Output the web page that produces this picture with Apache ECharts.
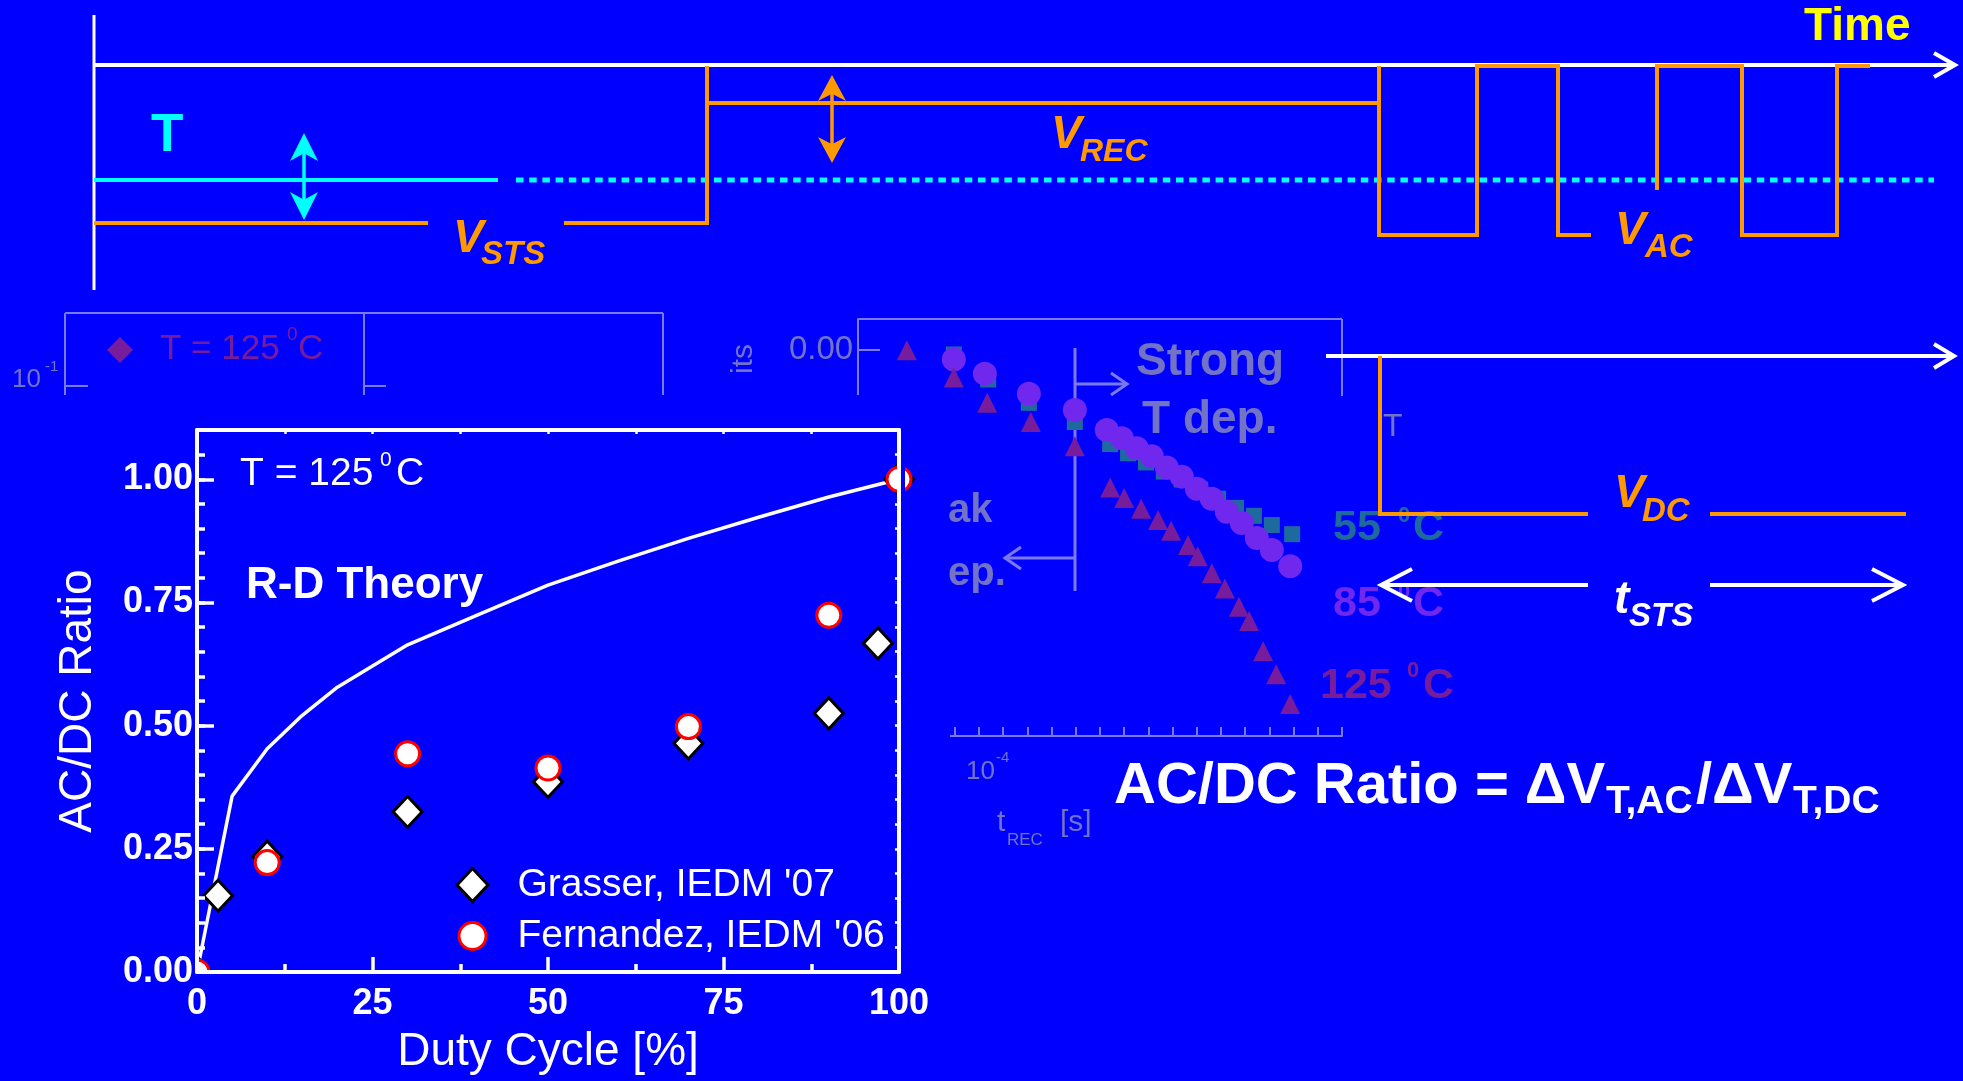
<!DOCTYPE html>
<html>
<head>
<meta charset="utf-8">
<script src="https://cdn.jsdelivr.net/npm/echarts@6/dist/echarts.min.js"></script>
<style>
  html, body { margin: 0; padding: 0; background: #0000ff; }
  #chart { width: 1963px; height: 1081px; }
</style>
</head>
<body>
<div id="chart"></div>
<script>
// ---- AC/DC ratio versus duty cycle (T = 125 °C) ----
const dutyTicks = [0, 25, 50, 75, 100];
const ratioTicks = [0, 0.25, 0.5, 0.75, 1.0];

// R-D theory curve
const theoryDuty  = [0, 5, 10, 15, 20, 25, 30, 40, 50, 60, 70, 80, 90, 100];
const theoryRatio = [0, 0.357, 0.453, 0.521, 0.578, 0.621, 0.664, 0.725, 0.785, 0.834, 0.880, 0.923, 0.964, 1.0];

// Grasser, IEDM '07
const grasserDuty  = [0, 3, 10, 30, 50, 70, 90, 97, 100];
const grasserRatio = [0, 0.155, 0.234, 0.325, 0.386, 0.464, 0.525, 0.667, 1.0];

// Fernandez, IEDM '06
const fernandezDuty  = [0, 10, 30, 50, 70, 90, 100];
const fernandezRatio = [0, 0.222, 0.443, 0.414, 0.498, 0.724, 1.0];

// Faint recovery plot behind the slide (normalised units of its own frame)
const faint125 = [[0.101,0.925],[0.198,0.860],[0.267,0.799],[0.357,0.753],[0.448,0.695],[0.521,0.596],
  [0.550,0.571],[0.585,0.545],[0.620,0.518],[0.647,0.492],[0.682,0.458],[0.702,0.431],[0.731,0.390],
  [0.758,0.354],[0.787,0.310],[0.808,0.276],[0.837,0.203],[0.864,0.148],[0.893,0.077]];
const faint85 = [[0.198,0.903],[0.262,0.869],[0.353,0.821],[0.448,0.782],[0.514,0.734],[0.545,0.714],
  [0.576,0.690],[0.607,0.671],[0.638,0.644],[0.669,0.622],[0.700,0.593],[0.731,0.569],[0.762,0.538],
  [0.793,0.511],[0.824,0.475],[0.855,0.446],[0.893,0.407]];
const faint55 = [[0.198,0.915],[0.269,0.855],[0.353,0.799],[0.448,0.753],[0.521,0.700],[0.558,0.678],
  [0.595,0.656],[0.632,0.634],[0.669,0.615],[0.707,0.591],[0.744,0.569],[0.781,0.547],[0.818,0.528],
  [0.855,0.506],[0.897,0.484]];

const FONT = '"Liberation Sans", Arial, Helvetica, sans-serif';
const WHITE = '#ffffff', ORANGE = '#ff9900', CYAN = '#00ffff', YELLOW = '#ffff00', BLUE = '#0000ff';
const G_GRAY = '#7272c6', G_LINE = '#7a7aee', G_RED = '#761c9c', G_PURPLE = '#7028ee', G_GREEN = '#1e6a9e';
const GRASSER = "Grasser, IEDM '07";
const FERNANDEZ = "Fernandez, IEDM '06";

function pairs(xs, ys) { return xs.map((x, i) => [x, ys[i]]); }

function txt(s, x, y, fs, color, o) {
  o = o || {};
  return {
    type: 'text', x: x, y: y, z: o.z == null ? 6 : o.z, rotation: o.rot || 0, silent: true,
    style: {
      text: s, fontSize: fs, fontFamily: FONT,
      fontWeight: o.bold ? 'bold' : 'normal', fontStyle: o.italic ? 'italic' : 'normal',
      fill: color, align: o.align || 'left', verticalAlign: 'middle'
    }
  };
}
function seg(x1, y1, x2, y2, color, w, o) {
  o = o || {};
  return { type: 'line', z: o.z == null ? 6 : o.z, silent: true,
    shape: { x1: x1, y1: y1, x2: x2, y2: y2 },
    style: { stroke: color, lineWidth: w, lineDash: o.dash || null, lineCap: 'butt' } };
}
function poly(points, color, w, o) {
  o = o || {};
  return { type: 'polyline', z: o.z == null ? 6 : o.z, silent: true,
    shape: { points: points },
    style: { stroke: color, lineWidth: w, fill: null, lineJoin: 'miter' } };
}
// filled stealth-style arrow head; up=true means the tip points upward
function head(x, tipY, up, len, half, color) {
  const s = up ? 1 : -1;
  return { type: 'polygon', z: 6, silent: true,
    shape: { points: [[x, tipY], [x + half, tipY + s * len], [x, tipY + s * len * 0.72], [x - half, tipY + s * len]] },
    style: { fill: color } };
}
function rect(x, y, w, h, color, z) {
  return { type: 'rect', z: z, silent: true, shape: { x: x, y: y, width: w, height: h }, style: { fill: color } };
}

// ---- timing schematic ----
const schematic = [
  seg(94, 15, 94, 290, WHITE, 3),
  seg(94, 65, 1953, 65, WHITE, 4),
  poly([[1934, 53], [1955, 65], [1934, 77]], WHITE, 4),
  txt('Time', 1804, 27, 46, YELLOW, { bold: true }),

  // temperature
  seg(94, 180, 498, 180, CYAN, 4),
  seg(516, 180, 1934, 180, CYAN, 5, { dash: [7.5, 5.7] }),
  txt('T', 151, 136, 53, CYAN, { bold: true }),
  seg(304, 150, 304, 203, CYAN, 3.5),
  head(304, 133, true, 28, 14, CYAN),
  head(304, 220, false, 28, 14, CYAN),

  // stress / recovery / AC voltage
  poly([[94, 223], [428, 223]], ORANGE, 4),
  poly([[564, 223], [707, 223], [707, 66]], ORANGE, 4),
  seg(707, 103, 1379, 103, ORANGE, 4),
  poly([[1379, 66], [1379, 235], [1477, 235], [1477, 66], [1558, 66], [1558, 235], [1591, 235]], ORANGE, 4),
  poly([[1657, 190], [1657, 66], [1742, 66], [1742, 235], [1837, 235], [1837, 66], [1870, 66]], ORANGE, 4),
  seg(832, 92, 832, 146, ORANGE, 3.5),
  head(832, 75, true, 26, 14, ORANGE),
  head(832, 163, false, 26, 14, ORANGE),
  txt('V', 453, 239, 46, ORANGE, { bold: true, italic: true }),
  txt('STS', 481, 255, 33, ORANGE, { bold: true, italic: true }),
  txt('V', 1051, 135, 46, ORANGE, { bold: true, italic: true }),
  txt('REC', 1080, 152, 32, ORANGE, { bold: true, italic: true }),
  txt('V', 1615, 231, 46, ORANGE, { bold: true, italic: true }),
  txt('AC', 1645, 248, 33, ORANGE, { bold: true, italic: true }),

  // DC stress
  seg(1326, 356, 1952, 356, WHITE, 4),
  poly([[1934, 344], [1954, 356], [1934, 368]], WHITE, 4),
  poly([[1380, 356], [1380, 514], [1588, 514]], ORANGE, 4),
  seg(1710, 514, 1906, 514, ORANGE, 4),
  txt('V', 1614, 494, 46, ORANGE, { bold: true, italic: true }),
  txt('DC', 1642, 512, 33, ORANGE, { bold: true, italic: true }),
  seg(1383, 585, 1588, 585, WHITE, 4),
  poly([[1412, 569], [1381, 585], [1412, 601]], WHITE, 4),
  seg(1710, 585, 1901, 585, WHITE, 4),
  poly([[1872, 569], [1903, 585], [1872, 601]], WHITE, 4),
  txt('t', 1614, 600, 46, WHITE, { bold: true, italic: true }),
  txt('STS', 1629, 617, 33, WHITE, { bold: true, italic: true }),

  // definition
  txt('AC/DC Ratio = \u0394V', 1114, 787, 58, WHITE, { bold: true }),
  txt('T,AC', 1606, 802, 39, WHITE, { bold: true }),
  txt('/\u0394V', 1696, 787, 58, WHITE, { bold: true }),
  txt('T,DC', 1793, 802, 39, WHITE, { bold: true })
];

// ---- faint background plot remnants ----
const faint = [
  seg(65, 313, 663, 313, G_LINE, 2, { z: 1 }),
  seg(65, 313, 65, 395, G_LINE, 2, { z: 1 }),
  seg(364, 313, 364, 395, G_LINE, 2, { z: 1 }),
  seg(663, 313, 663, 395, G_LINE, 2, { z: 1 }),
  seg(65, 386, 88, 386, G_LINE, 2, { z: 1 }),
  seg(364, 386, 386, 386, G_LINE, 2, { z: 1 }),
  { type: 'polygon', z: 1, silent: true, shape: { points: [[120, 337], [133, 350], [120, 363], [107, 350]] }, style: { fill: G_RED } },
  txt('T = 125', 160, 349, 35, G_RED, { z: 1 }),
  txt('0', 287, 335, 19, G_RED, { z: 1 }),
  txt('C', 298, 349, 35, G_RED, { z: 1 }),
  txt('10', 12, 380, 26, G_GRAY, { z: 1 }),
  txt('-1', 45, 367, 15, G_GRAY, { z: 1 }),
  txt('0.00', 789, 350, 33, G_GRAY, { z: 1 }),
  seg(858, 350, 880, 350, G_LINE, 2, { z: 1 }),
  txt('its', 744, 359, 30, G_GRAY, { z: 1, rot: Math.PI / 2, align: 'center' }),
  seg(858, 319, 1342, 319, G_LINE, 2, { z: 1 }),
  seg(1342, 319, 1342, 396, G_LINE, 2, { z: 1 }),
  seg(1075, 348, 1075, 591, G_LINE, 3, { z: 1 }),
  seg(1075, 384, 1124, 384, G_LINE, 3, { z: 1 }),
  poly([[1111, 373], [1127, 384], [1111, 395]], G_LINE, 3, { z: 1 }),
  seg(1075, 558, 1008, 558, G_LINE, 3, { z: 1 }),
  poly([[1021, 547], [1005, 558], [1021, 569]], G_LINE, 3, { z: 1 }),
  txt('Strong', 1136, 362, 46, G_GRAY, { z: 1, bold: true }),
  txt('T dep.', 1142, 420, 46, G_GRAY, { z: 1, bold: true }),
  txt('ak', 948, 511, 40, G_GRAY, { z: 1, bold: true }),
  txt('ep.', 948, 574, 40, G_GRAY, { z: 1, bold: true }),
  txt('T', 1383, 427, 32, G_GRAY, { z: 1 }),
  txt('55', 1333, 528, 43, G_GREEN, { z: 1, bold: true }),
  txt('0', 1398, 516, 22, G_GREEN, { z: 1, bold: true }),
  txt('C', 1413, 528, 43, G_GREEN, { z: 1, bold: true }),
  txt('85', 1333, 604, 43, G_PURPLE, { z: 1, bold: true }),
  txt('0', 1398, 592, 22, G_PURPLE, { z: 1, bold: true }),
  txt('C', 1413, 604, 43, G_PURPLE, { z: 1, bold: true }),
  txt('125', 1320, 686, 43, G_RED, { z: 1, bold: true }),
  txt('0', 1407, 671, 22, G_RED, { z: 1, bold: true }),
  txt('C', 1423, 686, 43, G_RED, { z: 1, bold: true }),
  txt('10', 966, 772, 26, G_GRAY, { z: 1 }),
  txt('-4', 996, 758, 15, G_GRAY, { z: 1 }),
  txt('t', 997, 823, 30, G_GRAY, { z: 1 }),
  txt('REC', 1007, 840, 17, G_GRAY, { z: 1 }),
  txt('[s]', 1060, 823, 30, G_GRAY, { z: 1 })
];

// blue surround that hides marks spilling past the plot frame,
// plus patches keeping the faint frame out of the plot interior
const surround = [
  rect(0, 395, 197, 686, BLUE, 5),
  rect(899, 395, 6, 686, BLUE, 5),
  rect(0, 395, 905, 35, BLUE, 5),
  rect(0, 972, 905, 109, BLUE, 5),
  rect(840, 430, 62, 320, BLUE, 1.5),
  rect(902, 700, 48, 50, BLUE, 1.5)
];

// plot annotations
const notes = [
  txt('T = 125', 240, 474, 39, WHITE),
  txt('0', 380, 460, 21, WHITE),
  txt('C', 396, 474, 39, WHITE),
  txt('R-D Theory', 246, 586, 44, WHITE, { bold: true })
];

const isMajor = v => Math.abs(v / 0.25 - Math.round(v / 0.25)) < 1e-6;

const option = {
  backgroundColor: BLUE,
  animation: false,
  textStyle: { fontFamily: FONT },
  grid: [
    { left: 197, top: 430, width: 702, height: 542 },
    { left: 197, top: 430, width: 702, height: 542 },
    { left: 858, top: 319, width: 484, height: 417 }
  ],
  xAxis: [
    {
      gridIndex: 0, type: 'value', position: 'bottom', min: dutyTicks[0], max: dutyTicks[dutyTicks.length - 1],
      interval: 25, z: 10,
      name: 'Duty Cycle [%]', nameLocation: 'middle', nameGap: 57,
      nameTextStyle: { color: WHITE, fontSize: 46, fontFamily: FONT },
      axisLine: { show: true, onZero: false, lineStyle: { color: WHITE, width: 4 } },
      axisTick: { show: true, inside: true, length: 15, lineStyle: { color: WHITE, width: 3.5 } },
      minorTick: { show: true, splitNumber: 2, length: 8, lineStyle: { color: WHITE, width: 3.5 } },
      splitLine: { show: false }, minorSplitLine: { show: false },
      axisLabel: { color: WHITE, fontSize: 36, fontWeight: 'bold', fontFamily: FONT, margin: 14 }
    },
    {
      gridIndex: 0, type: 'value', position: 'top', min: 0, max: 100, interval: 12.5, z: 10,
      axisLine: { show: true, onZero: false, lineStyle: { color: WHITE, width: 4 } },
      axisTick: { show: true, inside: true, length: 4, lineStyle: { color: WHITE, width: 2.5 } },
      axisLabel: { show: false }, splitLine: { show: false }
    },
    { gridIndex: 1, type: 'value', min: 0, max: 100, show: false },
    {
      gridIndex: 2, type: 'value', min: 0, max: 1, interval: 0.05, z: 0,
      axisLine: { show: true, onZero: false, lineStyle: { color: G_LINE, width: 2 } },
      axisTick: { show: true, inside: true, length: 9, lineStyle: { color: G_LINE, width: 2 } },
      axisLabel: { show: false }, splitLine: { show: false }
    }
  ],
  yAxis: [
    {
      gridIndex: 0, type: 'value', position: 'left', min: ratioTicks[0], max: 1.1, interval: 0.25, z: 10,
      name: 'AC/DC Ratio', nameLocation: 'middle', nameGap: 96,
      nameTextStyle: { color: WHITE, fontSize: 46, fontFamily: FONT },
      axisLine: { show: true, onZero: false, lineStyle: { color: WHITE, width: 4 } },
      axisTick: { show: true, inside: true, length: 17, lineStyle: { color: WHITE, width: 3.5 } },
      splitLine: { show: false },
      axisLabel: {
        color: WHITE, fontSize: 36, fontWeight: 'bold', fontFamily: FONT, margin: 4,
        showMaxLabel: false,
        formatter: v => (isMajor(v) && v <= ratioTicks[ratioTicks.length - 1] + 1e-9) ? v.toFixed(2) : ''
      }
    },
    {
      gridIndex: 0, type: 'value', position: 'right', min: 0, max: 1.1, interval: 0.05, z: 10,
      axisLine: { show: true, onZero: false, lineStyle: { color: WHITE, width: 4 } },
      axisTick: { show: true, inside: true, length: 4, lineStyle: { color: WHITE, width: 2.5 } },
      axisLabel: { show: false }, splitLine: { show: false }
    },
    {
      gridIndex: 1, type: 'value', position: 'left', min: 0, max: 1.1, interval: 0.05, z: 10,
      axisLine: { show: false },
      axisTick: { show: true, inside: true, length: 8, lineStyle: { color: WHITE, width: 3.5 } },
      axisLabel: { show: false }, splitLine: { show: false }
    },
    {
      gridIndex: 2, type: 'value', min: 0, max: 1, z: 0,
      axisLine: { show: true, onZero: false, lineStyle: { color: G_LINE, width: 2 } },
      axisTick: { show: false }, axisLabel: { show: false }, splitLine: { show: false }
    }
  ],
  legend: [
    {
      selectedMode: false, orient: 'vertical', left: 455.5, top: 865.5, padding: 0,
      itemWidth: 31, itemHeight: 33,
      data: [{ name: GRASSER, icon: 'diamond', itemStyle: { color: WHITE, borderColor: '#000000', borderWidth: 3 } }],
      textStyle: { color: WHITE, fontSize: 39, fontFamily: FONT, padding: [0, 0, 0, 24.5] }
    },
    {
      selectedMode: false, orient: 'vertical', left: 457.5, top: 916.5, padding: 0,
      itemWidth: 27, itemHeight: 27,
      data: [{ name: FERNANDEZ, icon: 'circle', itemStyle: { color: WHITE, borderColor: '#ff0000', borderWidth: 3 } }],
      textStyle: { color: WHITE, fontSize: 39, fontFamily: FONT, padding: [0, 0, 0, 26.5] }
    }
  ],
  graphic: { elements: faint.concat(surround, schematic, notes) },
  series: [
    {
      name: 'R-D Theory', type: 'line', xAxisIndex: 0, yAxisIndex: 0, z: 2, silent: true,
      data: pairs(theoryDuty, theoryRatio), symbol: 'none', showSymbol: false,
      lineStyle: { color: WHITE, width: 3.5 }
    },
    {
      name: GRASSER, type: 'scatter', xAxisIndex: 0, yAxisIndex: 0, z: 3, silent: true,
      data: pairs(grasserDuty, grasserRatio), symbol: 'diamond', symbolSize: [29, 31],
      itemStyle: { color: WHITE, borderColor: '#000000', borderWidth: 3, opacity: 1 }
    },
    {
      name: FERNANDEZ, type: 'scatter', xAxisIndex: 0, yAxisIndex: 0, z: 4, silent: true,
      data: pairs(fernandezDuty, fernandezRatio), symbol: 'circle', symbolSize: 24,
      itemStyle: { color: WHITE, borderColor: '#ff0000', borderWidth: 3, opacity: 1 }
    },
    {
      name: 'faint 55', type: 'scatter', xAxisIndex: 3, yAxisIndex: 3, z: 1, silent: true,
      data: faint55, symbol: 'rect', symbolSize: 16, itemStyle: { color: G_GREEN, opacity: 1 }
    },
    {
      name: 'faint 85', type: 'scatter', xAxisIndex: 3, yAxisIndex: 3, z: 1, silent: true,
      data: faint85, symbol: 'circle', symbolSize: 24, itemStyle: { color: G_PURPLE, opacity: 1 }
    },
    {
      name: 'faint 125', type: 'scatter', xAxisIndex: 3, yAxisIndex: 3, z: 1, silent: true,
      data: faint125, symbol: 'triangle', symbolSize: [20, 20], itemStyle: { color: G_RED, opacity: 1 }
    }
  ]
};

const chart = echarts.init(document.getElementById('chart'), null, { renderer: 'canvas' });
chart.setOption(option);
</script>
</body>
</html>
